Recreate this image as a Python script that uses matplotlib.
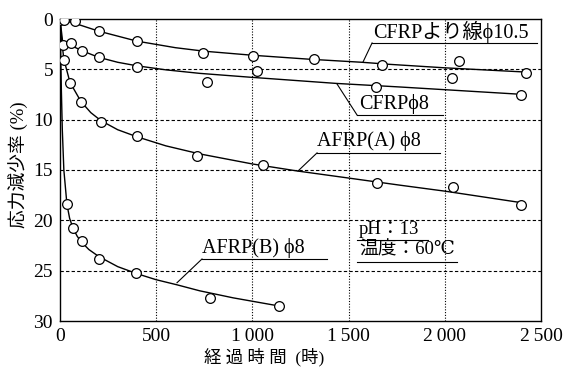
import matplotlib
matplotlib.use('Agg')
import matplotlib.pyplot as plt

plt.rcParams['font.family'] = ['Liberation Serif', 'DejaVu Serif', 'Noto Sans CJK JP']

# measured points (hours, stress loss %)
cfrp_strand_x = [0, 21, 78, 202, 400, 742, 1001, 1318, 1675, 2075, 2422]
cfrp_strand_y = [0.1, 0.1, 0.2, 1.2, 2.2, 3.4, 3.7, 4.0, 4.6, 4.2, 5.4]
cfrp8_x = [16, 57, 114, 202, 400, 762, 1022, 1644, 2039, 2397]
cfrp8_y = [2.6, 2.4, 3.2, 3.8, 4.8, 6.3, 5.2, 6.8, 5.9, 7.5]
afrpa_x = [21, 52, 109, 213, 400, 710, 1053, 1650, 2044, 2397]
afrpa_y = [4.1, 6.4, 8.2, 10.2, 11.6, 13.6, 14.5, 16.3, 16.7, 18.5]
afrpb_x = [36, 68, 114, 202, 394, 778, 1136]
afrpb_y = [18.4, 20.8, 22.1, 23.8, 25.2, 27.7, 28.5]

# fitted curves
fit_strand_x = [0, 20, 80, 200, 400, 600, 750, 1000, 1300, 1570, 1710, 2000, 2400]
fit_strand_y = [0, 0.15, 0.45, 1.2, 2.2, 2.85, 3.2, 3.6, 4.0, 4.3, 4.5, 4.85, 5.25]
fit_c8_x = [0, 14, 35, 60, 114, 200, 300, 400, 550, 726, 1000, 1437, 1764, 2370]
fit_c8_y = [0, 2.3, 2.5, 2.65, 3.15, 3.8, 4.3, 4.65, 5.05, 5.4, 5.8, 6.4, 6.75, 7.45]
fit_a_x = [0, 8, 20, 52, 109, 160, 213, 300, 400, 550, 726, 1000, 1234, 1500, 1764, 2000, 2400]
fit_a_y = [0, 2.0, 4.0, 6.3, 8.2, 9.3, 10.1, 11.0, 11.7, 12.6, 13.4, 14.4, 15.1, 15.8, 16.5, 17.1, 18.25]
fit_b_x = [0, 3, 7, 12, 20, 36, 50, 68, 90, 114, 150, 202, 300, 400, 500, 607, 726, 900, 1136]
fit_b_y = [0, 3, 7, 11, 15, 18.4, 19.8, 20.8, 21.6, 22.2, 22.9, 23.6, 24.6, 25.3, 25.9, 26.4, 27.0, 27.7, 28.5]

xticks = [0, 500, 1000, 1500, 2000, 2500]
xticklabels = ['0', '500', '1\u2009000', '1\u2009500', '2\u2009000', '2\u2009500']
yticks = [0, 5, 10, 15, 20, 25, 30]

fig = plt.figure(figsize=(5.63, 3.70), dpi=100)
ax = fig.add_axes([60 / 563, 49 / 370, 481 / 563, 302 / 370])

ax.set_xlim(0, 2500)
ax.set_ylim(30, 0)

for y in yticks[1:-1]:
    ax.axhline(y, color='black', lw=0.8, ls=(0, (3, 2)), zorder=1)
for x in xticks[1:-1]:
    ax.axvline(x, color='black', lw=0.8, ls=(0, (1, 1.5)), zorder=1)

for fx, fy in [(fit_strand_x, fit_strand_y), (fit_c8_x, fit_c8_y),
               (fit_a_x, fit_a_y), (fit_b_x, fit_b_y)]:
    ax.plot(fx, fy, color='black', lw=1.0, zorder=2)

for px, py in [(cfrp_strand_x, cfrp_strand_y), (cfrp8_x, cfrp8_y),
               (afrpa_x, afrpa_y), (afrpb_x, afrpb_y)]:
    ax.plot(px, py, 'o', ms=7, mfc='white', mec='black', mew=0.9, ls='none', zorder=3)

ax.set_xticks(xticks)
ax.set_xticklabels(xticklabels)
ax.set_yticks(yticks)
ax.tick_params(length=0, labelsize=14, pad=5)
for s in ax.spines.values():
    s.set_linewidth(1.0)


def label(text, tx, ty, ux0, ux1, uy, lx0, ly0, size=14.5):
    ax.text(tx, ty, text, fontsize=size, va='center', ha='left', zorder=4)
    ax.plot([ux0, ux1], [uy, uy], color='black', lw=0.8, zorder=4)
    ax.plot([lx0, ux0], [ly0, uy], color='black', lw=0.8, zorder=4)


label('CFRPより線ϕ10.5', 1630, 1.3, 1622, 2479, 2.38, 1575, 4.27)
label('CFRPϕ8', 1555, 8.4, 1544, 1991, 9.54, 1440, 6.46)
label('AFRP(A) ϕ8', 1338, 12.1, 1336, 1975, 13.3, 1237, 15.1)
label('AFRP(B) ϕ8', 740, 22.7, 738, 1388, 23.84, 608, 26.2)

ax.text(1555, 20.9, 'pH：13', fontsize=13.5, va='center', ha='left', zorder=4)
ax.plot([1544, 1912], [21.95, 21.95], color='black', lw=0.8, zorder=4)
ax.text(1555, 22.95, '温度：60℃', fontsize=13.5, va='center', ha='left', zorder=4)
ax.plot([1544, 2063], [24.1, 24.1], color='black', lw=0.8, zorder=4)

fig.text(264 / 563, 1 - 357 / 370, '経 過 時 間  (時)', fontsize=12.5, ha='center', va='center')
fig.text(18 / 563, 1 - 165 / 370, '応力減少率 (%)', fontsize=13.5, ha='center', va='center',
         rotation=90)

fig.savefig('out.png', dpi=100)
